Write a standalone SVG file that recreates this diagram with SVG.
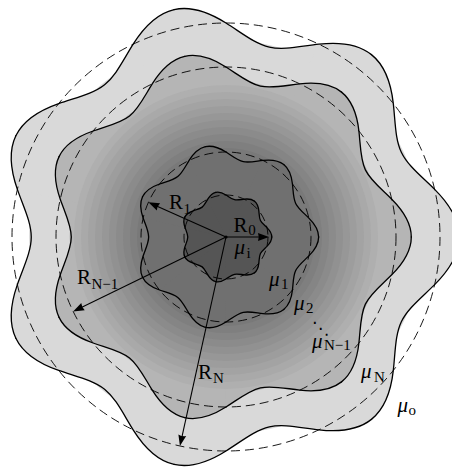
<svg xmlns="http://www.w3.org/2000/svg" xmlns:xlink="http://www.w3.org/1999/xlink" width="452" height="468" viewBox="0 0 452 468">
<style>
.dash{fill:none;stroke:#000;stroke-width:0.9;stroke-dasharray:9 5}
.wave{fill:none;stroke:#000;stroke-linecap:round;stroke-linejoin:round}
.arr{fill:none;stroke:#000;stroke-width:1.1;marker-end:url(#ah)}
text{font-family:"Liberation Serif","DejaVu Serif",serif;fill:#000}
.m{font-size:21px}
.mu{font-size:21px;font-style:italic}
.s{font-size:15px}
</style>
<defs>
<path id="wedge" d="M0,0 L97.493,-22.252 C103.752,-16.008 109,-8.153 109,0 C109,8.153 103.752,16.008 97.493,22.252 C91.234,28.496 84.942,33.351 81.988,39.483 C79.035,45.616 79.163,53.563 78.183,62.349 C77.204,71.135 74.335,80.136 67.960,85.220 Z"/>
<path id="period" d="M109,0 C109,8.153 103.752,16.008 97.493,22.252 C91.234,28.496 84.942,33.351 81.988,39.483 C79.035,45.616 79.163,53.563 78.183,62.349 C77.204,71.135 74.335,80.136 67.960,85.220"/>
<g id="shape">
<circle r="92"/>
<use href="#wedge"/>
<use href="#wedge" transform="rotate(51.4286)"/>
<use href="#wedge" transform="rotate(102.8571)"/>
<use href="#wedge" transform="rotate(154.2857)"/>
<use href="#wedge" transform="rotate(205.7143)"/>
<use href="#wedge" transform="rotate(257.1429)"/>
<use href="#wedge" transform="rotate(308.5714)"/>
</g>
<g id="outline">
<use href="#period"/>
<use href="#period" transform="rotate(51.4286)"/>
<use href="#period" transform="rotate(102.8571)"/>
<use href="#period" transform="rotate(154.2857)"/>
<use href="#period" transform="rotate(205.7143)"/>
<use href="#period" transform="rotate(257.1429)"/>
<use href="#period" transform="rotate(308.5714)"/>
</g>
<marker id="ah" markerUnits="userSpaceOnUse" markerWidth="12" markerHeight="9" refX="7" refY="4" orient="auto" overflow="visible">
<path d="M0,0 L11,4 L0,8 Q1.5,4 0,0 Z" fill="#000" stroke="none"/>
</marker>
</defs>

<g id="region-outer" transform="translate(226,237) scale(2.14)" fill="#d9d9d9"><use href="#shape"/></g>
<g id="region-N" transform="translate(226,237) scale(1.70)" fill="#b5b5b5"><use href="#shape"/></g>
<g id="bands" transform="translate(226,237)">
<circle r="152" fill="#afafaf"/>
<circle r="145" fill="#a9a9a9"/>
<circle r="138" fill="#a3a3a3"/>
<circle r="131" fill="#9d9d9d"/>
<circle r="124" fill="#979797"/>
<circle r="117" fill="#919191"/>
<circle r="110" fill="#8b8b8b"/>
<circle r="103" fill="#858585"/>
<circle r="96" fill="#7f7f7f"/>
<circle r="89" fill="#797979"/>
</g>
<g id="region-1" transform="translate(226,237) scale(0.85)" fill="#707070"><use href="#shape"/></g>
<g id="region-i" transform="translate(226,237) scale(0.42)" fill="#555555"><use href="#shape"/></g>

<g id="dashed-circles" transform="translate(226,237)">
<circle class="dash" r="214"/>
<circle class="dash" r="170"/>
<circle class="dash" r="85"/>
<circle class="dash" r="42"/>
</g>

<g id="boundaries">
<g class="wave" transform="translate(226,237) scale(2.14)" stroke-width="0.607"><use href="#outline"/></g>
<g class="wave" transform="translate(226,237) scale(1.70)" stroke-width="0.765"><use href="#outline"/></g>
<g class="wave" transform="translate(226,237) scale(0.85)" stroke-width="1.53"><use href="#outline"/></g>
<g class="wave" transform="translate(226,237) scale(0.42)" stroke-width="3.1"><use href="#outline"/></g>
</g>

<g id="connectors">
<line class="arr" x1="226" y1="237" x2="265" y2="237"/>
<line class="arr" x1="226" y1="237" x2="152.05" y2="203.93"/>
<line class="arr" x1="226" y1="237" x2="76.7" y2="309.65"/>
<line class="arr" x1="226" y1="237" x2="180.79" y2="442.09"/>
<circle cx="226" cy="237" r="1.6" fill="#000"/>
</g>

<g id="labels">
<text><tspan class="m" x="233.5" y="232">R</tspan><tspan class="s" x="248.3" y="234.5">0</tspan></text>
<text><tspan class="mu" x="234.5" y="254">μ</tspan><tspan class="s" x="246.5" y="257.5">i</tspan></text>
<text><tspan class="m" x="169" y="208.5">R</tspan><tspan class="s" x="183.5" y="213.5">1</tspan></text>
<text><tspan class="mu" x="269" y="286">μ</tspan><tspan class="s" x="281" y="288.5">1</tspan></text>
<text><tspan class="mu" x="294" y="310">μ</tspan><tspan class="s" x="306" y="312.5">2</tspan></text>
<text x="312" y="334" style="font-family:'DejaVu Sans',sans-serif;font-size:17px">⋱</text>
<text><tspan class="mu" x="312" y="347.5">μ</tspan><tspan class="s" x="324" y="349.5">N−1</tspan></text>
<text><tspan class="mu" x="361" y="378">μ</tspan><tspan class="s" x="374" y="382">N</tspan></text>
<text><tspan class="mu" x="397.5" y="412">μ</tspan><tspan class="s" x="408.5" y="415">o</tspan></text>
<text><tspan class="m" x="77" y="284">R</tspan><tspan class="s" x="91.5" y="288.5">N−1</tspan></text>
<text><tspan class="m" x="198" y="379">R</tspan><tspan class="s" x="213" y="382.5">N</tspan></text>
</g>
</svg>
